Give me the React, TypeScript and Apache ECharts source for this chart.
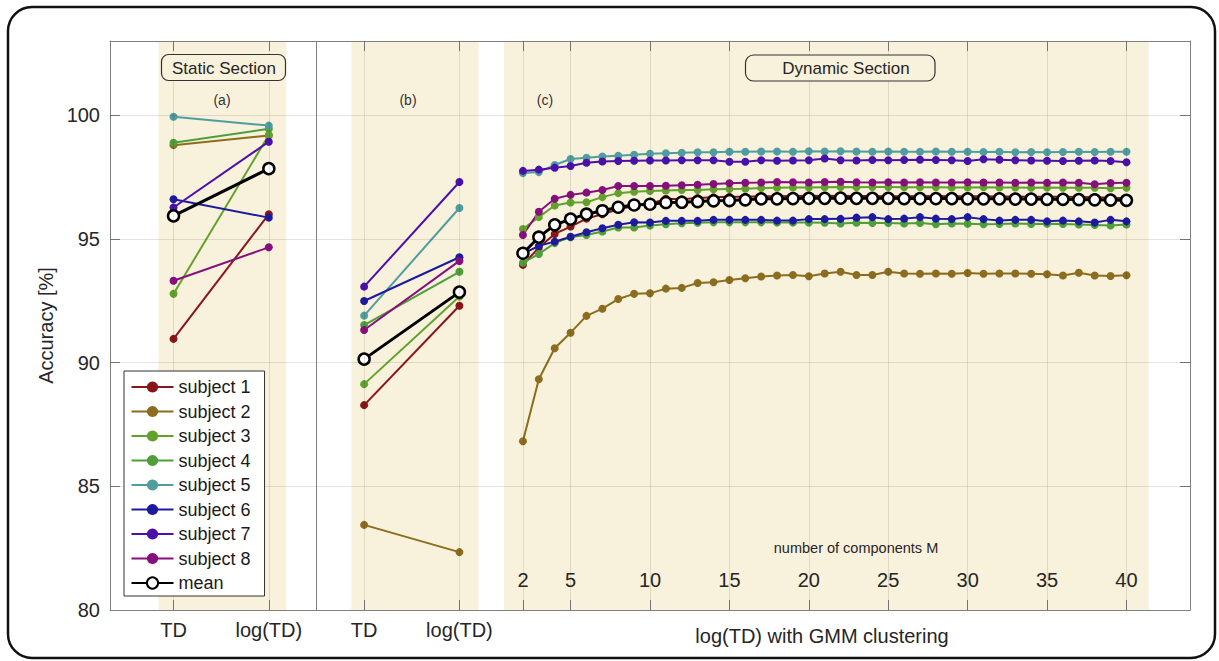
import React, { useEffect, useRef } from "react";
import * as echarts from "echarts";

// ---------- data ----------
const subjectNames = ["subject 1", "subject 2", "subject 3", "subject 4", "subject 5", "subject 6", "subject 7", "subject 8"];
const meanName = "mean";

// x-axis categories (placed on the value axis)
const staticLabels = ["TD", "log(TD)"];
const staticPos = [-20, -14]; // panel (a)
const logPos = [-8, -2]; // panel (b)
const mValues = [2, 3, 4, 5, 6, 7, 8, 9, 10, 11, 12, 13, 14, 15, 16, 17, 18, 19, 20, 21, 22, 23, 24, 25, 26, 27, 28, 29, 30, 31, 32, 33, 34, 35, 36, 37, 38, 39, 40];
const mTickLabels = [2, 5, 10, 15, 20, 25, 30, 35, 40];
const yTickLabels = [80, 85, 90, 95, 100];

// panel (a): TD, log(TD)
const staticS1 = [90.96, 96.0];
const staticS2 = [98.79, 99.18];
const staticS3 = [92.78, 99.2];
const staticS4 = [98.89, 99.45];
const staticS5 = [99.94, 99.58];
const staticS6 = [96.6, 95.86];
const staticS7 = [96.27, 98.93];
const staticS8 = [93.31, 94.66];
const staticMean = [95.93, 97.84];

// panel (b): TD, log(TD)
const logS1 = [88.28, 92.3];
const logS2 = [83.44, 82.34];
const logS3 = [89.13, 92.67];
const logS4 = [91.52, 93.67];
const logS5 = [91.9, 96.25];
const logS6 = [92.49, 94.26];
const logS7 = [93.07, 97.3];
const logS8 = [91.32, 94.11];
const logMean = [90.14, 92.85];

// panel (c): M = 2..40
const dynS1 = [93.95, 94.65, 95.2, 95.5, 95.82, 96.0, 96.2, 96.33, 96.42, 96.62, 96.6, 96.65, 96.68, 96.7, 96.7,
  96.72, 96.72, 96.73, 96.74, 96.73, 96.74, 96.73, 96.73, 96.72, 96.72, 96.73, 96.73, 96.72, 96.72, 96.72, 96.71, 96.71, 96.7, 96.7, 96.7, 96.69, 96.68, 96.66, 96.65];
const dynS2 = [86.82, 89.33, 90.58, 91.21, 91.89, 92.18, 92.57, 92.78, 92.8, 92.99, 93.02, 93.22, 93.25, 93.34,
  93.41, 93.48, 93.52, 93.54, 93.49, 93.6, 93.67, 93.54, 93.54, 93.67, 93.6, 93.59, 93.6, 93.59, 93.62, 93.59, 93.6, 93.6, 93.59, 93.57, 93.52, 93.63, 93.52, 93.5, 93.53];
const dynS3 = [95.4, 95.88, 96.35, 96.47, 96.48, 96.69, 96.85, 96.91, 96.94, 96.96, 96.98, 96.98, 97.01, 97.02, 97.03,
  97.06, 97.07, 97.08, 97.08, 97.09, 97.1, 97.09, 97.1, 97.1, 97.09, 97.09, 97.09, 97.08, 97.08, 97.09, 97.08, 97.08, 97.07, 97.08, 97.07, 97.07, 97.07, 97.05, 97.07];
const dynS4 = [94.04, 94.39, 94.83, 95.07, 95.16, 95.3, 95.46, 95.46, 95.54, 95.59, 95.63, 95.65, 95.67, 95.67, 95.67,
  95.67, 95.66, 95.66, 95.66, 95.65, 95.62, 95.65, 95.64, 95.64, 95.62, 95.64, 95.59, 95.62, 95.61, 95.59, 95.6, 95.62, 95.6, 95.61, 95.6, 95.58, 95.56, 95.54, 95.58];
const dynS5 = [97.66, 97.7, 97.99, 98.23, 98.28, 98.33, 98.36, 98.4, 98.44, 98.46, 98.48, 98.5, 98.5,
  98.52, 98.52, 98.53, 98.53, 98.52, 98.54, 98.53, 98.54, 98.53, 98.52, 98.53, 98.52, 98.52, 98.53, 98.52, 98.52, 98.51, 98.52, 98.5, 98.51, 98.5, 98.51, 98.52, 98.51, 98.52, 98.52];
const dynS6 = [94.4, 94.72, 94.89, 95.09, 95.27, 95.43, 95.57, 95.67, 95.66, 95.73, 95.73, 95.73, 95.77, 95.77, 95.77,
  95.77, 95.74, 95.74, 95.8, 95.8, 95.81, 95.86, 95.88, 95.8, 95.82, 95.88, 95.82, 95.8, 95.88, 95.8, 95.74, 95.77, 95.77, 95.71, 95.74, 95.71, 95.66, 95.77, 95.71];
const dynS7 = [97.75, 97.8, 97.88, 97.95, 98.08, 98.13, 98.15, 98.16, 98.17, 98.17, 98.18, 98.18, 98.18, 98.12, 98.12,
  98.18, 98.16, 98.17, 98.18, 98.25, 98.18, 98.17, 98.19, 98.18, 98.19, 98.2, 98.19, 98.18, 98.15, 98.22, 98.2, 98.18, 98.17, 98.16, 98.15, 98.16, 98.17, 98.15, 98.1];
const dynS8 = [95.16, 96.1, 96.62, 96.78, 96.87, 96.98, 97.14, 97.14, 97.14, 97.15, 97.17, 97.19, 97.22, 97.25, 97.27,
  97.28, 97.3, 97.29, 97.28, 97.3, 97.31, 97.29, 97.28, 97.29, 97.28, 97.29, 97.28, 97.28, 97.29, 97.28, 97.28, 97.27, 97.28, 97.27, 97.28, 97.27, 97.21, 97.26, 97.27];
const dynMean = [94.42, 95.07, 95.57, 95.8, 96.0, 96.14, 96.28, 96.37, 96.4, 96.47, 96.48, 96.51, 96.54, 96.55, 96.58,
  96.62, 96.62, 96.63, 96.64, 96.64, 96.65, 96.64, 96.64, 96.64, 96.63, 96.63, 96.63, 96.63, 96.62, 96.62, 96.62, 96.61, 96.61, 96.6, 96.6, 96.59, 96.58, 96.57, 96.56];

const staticAll = [staticS1, staticS2, staticS3, staticS4, staticS5, staticS6, staticS7, staticS8];
const logAll = [logS1, logS2, logS3, logS4, logS5, logS6, logS7, logS8];
const dynAll = [dynS1, dynS2, dynS3, dynS4, dynS5, dynS6, dynS7, dynS8];

// ---------- layout / style ----------
const COLORS = ["#8A1519", "#8C6C1E", "#62A22C", "#4E9F3A", "#509DA0", "#1E1AA0", "#4B10AA", "#870F7D"];
const FONT = "'Liberation Sans', Arial, Helvetica, sans-serif";
const X_MIN = -24, X_MAX = 44, Y_MIN = 80, Y_MAX = 103;
const SEPARATOR_X = -11;
const SHADES = [[-20.95, -12.9], [-8.8, -0.8], [0.8, 41.4]];
const SHADE_COLOR = "#F8F1DC";
const AXIS_COLOR = "#808080";
const GRID_COLOR = "rgba(0,0,0,0.1)";
const TEXT_COLOR = "#262626";

const xTickPositions = [...staticPos, ...logPos, ...mTickLabels];
const bottomLabelPos = [...staticPos, ...logPos];
const bottomLabelText = [...staticLabels, ...staticLabels];

function zip(xs: number[], ys: number[]) {
  return xs.map((x, i) => [x, ys[i]]);
}

function buildOption() {
  const series: any[] = [];
  series.push({
    type: "line", data: [], z: 0.5, silent: true,
    markArea: {
      silent: true,
      itemStyle: { color: SHADE_COLOR },
      data: SHADES.map(([a, b]) => [{ xAxis: a, yAxis: Y_MIN }, { xAxis: b, yAxis: Y_MAX }]),
    },
  });
  series.push({
    type: "line", data: [], z: 1, silent: true,
    markLine: {
      silent: true, symbol: ["none", "none"], label: { show: false },
      lineStyle: { color: GRID_COLOR, width: 1, type: "solid" },
      data: [
        ...xTickPositions.map((v) => ({ xAxis: v })),
        ...yTickLabels.filter((v) => v > Y_MIN).map((v) => ({ yAxis: v })),
        { xAxis: SEPARATOR_X, lineStyle: { color: AXIS_COLOR, width: 1, type: "solid" } },
      ],
    },
  });
  const panels = (vals: number[][], i: number) => [zip(staticPos, vals[0]), zip(logPos, vals[1]), zip(mValues, vals[2])];
  subjectNames.forEach((name, i) => {
    const segs = panels([staticAll[i], logAll[i], dynAll[i]], i);
    segs.forEach((d) => {
      series.push({
        type: "line", name, data: d, z: 2,
        symbol: "circle", symbolSize: 8, showSymbol: true,
        itemStyle: { color: COLORS[i] },
        lineStyle: { color: COLORS[i], width: 2 },
        emphasis: { disabled: true },
      });
    });
  });
  [zip(staticPos, staticMean), zip(logPos, logMean), zip(mValues, dynMean)].forEach((d) => {
    series.push({
      type: "line", name: meanName, data: d, z: 3,
      symbol: "circle", symbolSize: 11, showSymbol: true,
      itemStyle: { color: "#ffffff", borderColor: "#000000", borderWidth: 2.5 },
      lineStyle: { color: "#000000", width: 3 },
      emphasis: { disabled: true },
    });
  });

  const axisCommon = {
    min: X_MIN, max: X_MAX, type: "value", z: 4,
    splitLine: { show: false },
  };

  return {
    animation: false,
    textStyle: { fontFamily: FONT },
    grid: { left: 110, right: 29, top: 41, bottom: 51, containLabel: false },
    legend: {
      orient: "vertical", left: 124, top: 371,
      data: [...subjectNames, meanName],
      itemWidth: 42, itemHeight: 14, itemGap: 6.5,
      padding: [7, 14, 4, 6.5],
      backgroundColor: "#ffffff", borderColor: "#333333", borderWidth: 1,
      textStyle: { fontSize: 18, color: "#1a1a1a", lineHeight: 18, fontFamily: FONT },
      selectedMode: false, z: 10,
    },
    xAxis: [
      {
        ...axisCommon, position: "bottom",
        axisLine: { show: true, onZero: false, lineStyle: { color: AXIS_COLOR, width: 1 } },
        axisTick: { show: true, inside: true, length: 10, customValues: xTickPositions, lineStyle: { color: AXIS_COLOR } },
        axisLabel: {
          show: true, customValues: bottomLabelPos, margin: 10, fontSize: 20, color: TEXT_COLOR, fontFamily: FONT,
          formatter: (v: number) => { const k = bottomLabelPos.indexOf(v); return k >= 0 ? bottomLabelText[k] : ""; },
        },
      },
      {
        ...axisCommon, position: "top",
        axisLine: { show: true, onZero: false, lineStyle: { color: AXIS_COLOR, width: 1 } },
        axisTick: { show: true, inside: true, length: 10, customValues: xTickPositions, lineStyle: { color: AXIS_COLOR } },
        axisLabel: { show: false },
      },
      {
        ...axisCommon, position: "bottom", offset: -48,
        axisLine: { show: false, onZero: false },
        axisTick: { show: false },
        axisLabel: { show: true, customValues: mTickLabels, margin: 8, fontSize: 20, color: TEXT_COLOR, fontFamily: FONT },
      },
    ],
    yAxis: [
      {
        type: "value", min: Y_MIN, max: Y_MAX, position: "left", z: 4,
        name: "Accuracy [%]", nameLocation: "middle", nameGap: 50, nameRotate: 90,
        nameTextStyle: { fontSize: 20, color: TEXT_COLOR, fontFamily: FONT },
        axisLine: { show: true, onZero: false, lineStyle: { color: AXIS_COLOR, width: 1 } },
        axisTick: { show: true, inside: true, length: 10, customValues: yTickLabels, lineStyle: { color: AXIS_COLOR } },
        axisLabel: { show: true, customValues: yTickLabels, margin: 10, fontSize: 20, color: TEXT_COLOR, fontFamily: FONT },
        splitLine: { show: false },
      },
      {
        type: "value", min: Y_MIN, max: Y_MAX, position: "right", z: 4,
        axisLine: { show: true, onZero: false, lineStyle: { color: AXIS_COLOR, width: 1 } },
        axisTick: { show: true, inside: true, length: 10, customValues: yTickLabels, lineStyle: { color: AXIS_COLOR } },
        axisLabel: { show: false },
        splitLine: { show: false },
      },
    ],
    series,
    graphic: [
      { type: "rect", z: 20, silent: true, shape: { x: 8, y: 7, width: 1207, height: 651, r: 24 }, style: { fill: "none", stroke: "#111111", lineWidth: 2.5 } },
      { type: "rect", z: 20, silent: true, shape: { x: 161.5, y: 54.5, width: 124, height: 26, r: 7 }, style: { fill: SHADE_COLOR, stroke: "#333333", lineWidth: 1.2 } },
      { type: "text", z: 21, silent: true, x: 224, y: 68, style: { text: "Static Section", fontSize: 17, fill: TEXT_COLOR, align: "center", verticalAlign: "middle", fontFamily: FONT } },
      { type: "rect", z: 20, silent: true, shape: { x: 745.5, y: 55, width: 189.5, height: 26, r: 8 }, style: { fill: SHADE_COLOR, stroke: "#333333", lineWidth: 1.2 } },
      { type: "text", z: 21, silent: true, x: 846, y: 68, style: { text: "Dynamic Section", fontSize: 17, fill: TEXT_COLOR, align: "center", verticalAlign: "middle", fontFamily: FONT } },
      { type: "text", z: 21, silent: true, x: 222, y: 100, style: { text: "(a)", fontSize: 14, fill: "#333333", align: "center", verticalAlign: "middle", fontFamily: FONT } },
      { type: "text", z: 21, silent: true, x: 408, y: 100, style: { text: "(b)", fontSize: 14, fill: "#333333", align: "center", verticalAlign: "middle", fontFamily: FONT } },
      { type: "text", z: 21, silent: true, x: 545, y: 100, style: { text: "(c)", fontSize: 14, fill: "#333333", align: "center", verticalAlign: "middle", fontFamily: FONT } },
      { type: "text", z: 21, silent: true, x: 856, y: 548, style: { text: "number of components M", fontSize: 14.5, fill: TEXT_COLOR, align: "center", verticalAlign: "middle", fontFamily: FONT } },
      { type: "text", z: 21, silent: true, x: 822, y: 636, style: { text: "log(TD) with GMM clustering", fontSize: 20, fill: TEXT_COLOR, align: "center", verticalAlign: "middle", fontFamily: FONT } },
    ],
  };
}

export default function App() {
  const ref = useRef<HTMLDivElement>(null);
  useEffect(() => {
    if (!ref.current) return;
    const chart = echarts.init(ref.current, undefined, { renderer: "svg" });
    chart.setOption(buildOption() as any);
    return () => chart.dispose();
  }, []);
  return (
    <div
      ref={ref}
      style={{ position: "absolute", left: 0, top: 0, width: 1219, height: 661, background: "#ffffff" }}
    />
  );
}
